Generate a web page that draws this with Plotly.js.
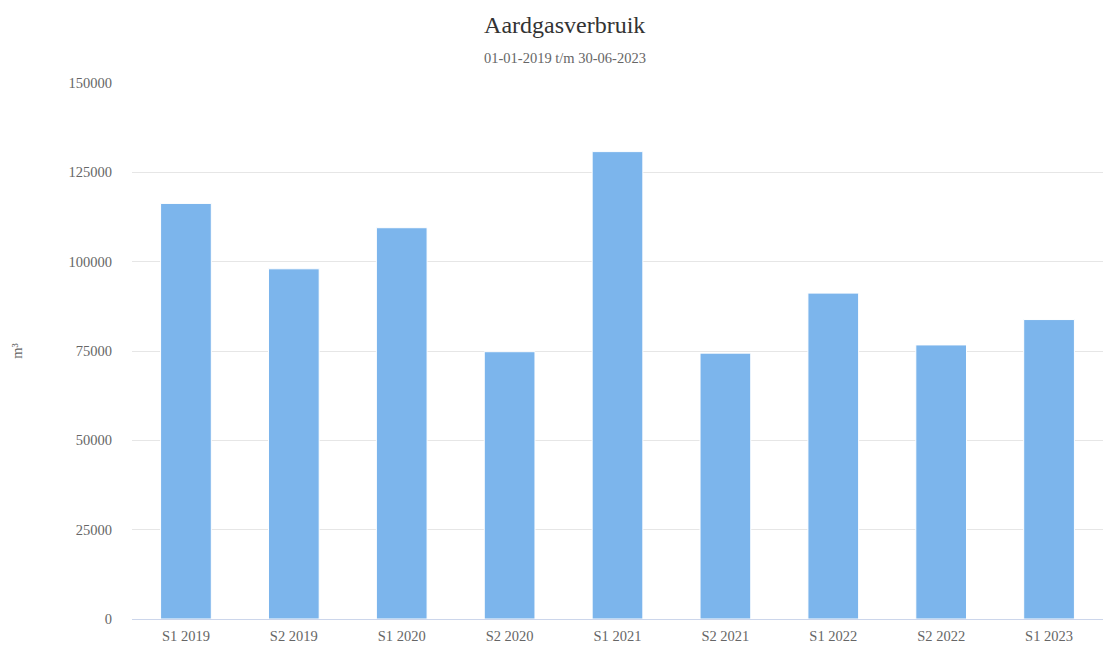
<!DOCTYPE html>
<html>
<head>
<meta charset="utf-8">
<script src="https://cdn.plot.ly/plotly-3.0.1.min.js"></script>
<style>html,body{margin:0;padding:0;background:#fff;}#chart{width:1103px;height:648px;}</style>
</head>
<body>
<div id="chart"></div>
<script>
const categories = ["S1 2019","S2 2019","S1 2020","S2 2020","S1 2021","S2 2021","S1 2022","S2 2022","S1 2023"];
const values = [116300, 98000, 109500, 74800, 130800, 74400, 91200, 76700, 83800];
const yTicks = [0, 25000, 50000, 75000, 100000, 125000, 150000];

const font = "Liberation Serif";

Plotly.newPlot("chart", [{
  type: "bar",
  x: categories,
  y: values,
  marker: {color: "#7cb5ec", line: {color: "#ffffff", width: 1}},
  hoverinfo: "x+y"
}], {
  width: 1103, height: 648,
  margin: {l: 132, r: 0, t: 83, b: 29, pad: 0},
  paper_bgcolor: "#ffffff",
  plot_bgcolor: "#ffffff",
  bargap: 0.53,
  showlegend: false,
  font: {family: font, color: "#666666", size: 14},
  title: {text: "Aardgasverbruik", x: 0.512, xref: "container", xanchor: "center", y: 0.962, yanchor: "middle",
          font: {family: font, size: 24, color: "#333333"}},
  annotations: [{
    text: "01-01-2019 t/m 30-06-2023", xref: "paper", yref: "paper", x: 0.512 * 1103 / 971 - 132 / 971, y: 1, yshift: 25,
    xanchor: "center", yanchor: "middle", showarrow: false,
    font: {family: font, size: 14.5, color: "#666666"}
  }],
  xaxis: {
    type: "category",
    showgrid: false,
    showline: true, linecolor: "#ccd6eb", linewidth: 1,
    ticks: "", tickfont: {family: font, size: 14.5, color: "#666666"},
    ticklabelstandoff: 4,
    zeroline: false
  },
  yaxis: {
    range: [0, 150000],
    tickvals: yTicks,
    ticktext: yTicks.map(String),
    showgrid: true, gridcolor: "#e6e6e6", gridwidth: 1,
    zeroline: false, showline: false,
    ticks: "", tickfont: {family: font, size: 14.5, color: "#666666"},
    ticklabelstandoff: 19,
    title: {text: "m³", font: {family: font, size: 14.5, color: "#666666"}, standoff: 42}
  }
}, {displayModeBar: false, staticPlot: true});
</script>
</body>
</html>
